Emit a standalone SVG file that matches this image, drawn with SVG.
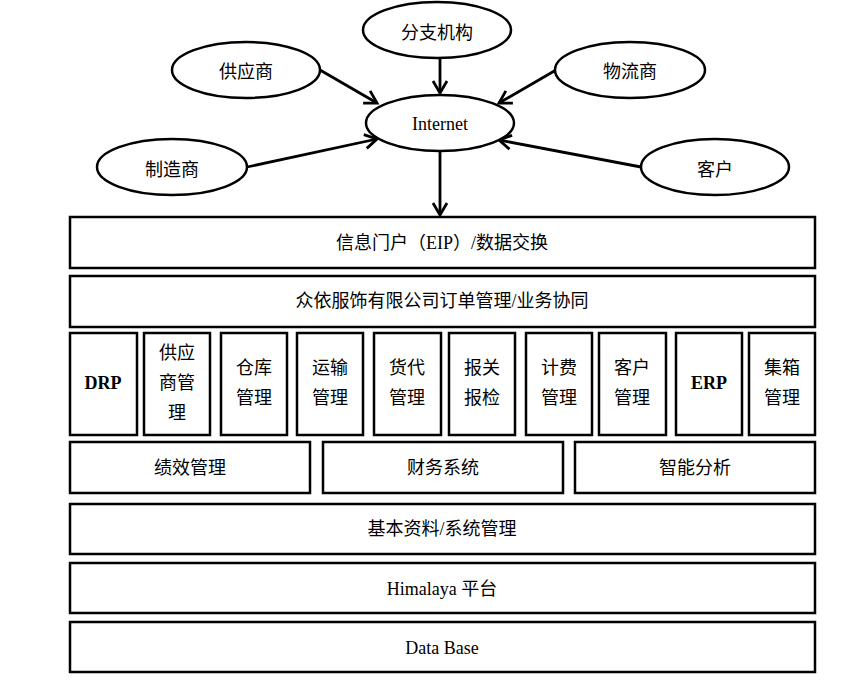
<svg xmlns="http://www.w3.org/2000/svg" width="852" height="683" viewBox="0 0 852 683">
<style>
.n{fill:#fff;stroke:#000;stroke-width:2.5}
.t{font-family:"Liberation Serif","Noto Sans CJK SC",serif;font-size:18px;fill:#000;text-anchor:middle}
.c{stroke:#000;stroke-width:2.8;fill:none}
.b{font-weight:bold}
</style>
<defs>
<marker id="ah" markerUnits="userSpaceOnUse" markerWidth="16" markerHeight="18" refX="13" refY="8" orient="auto" viewBox="0 0 16 16">
<path d="M1,1 L13,8 L1,15" fill="none" stroke="#000" stroke-width="2.8"/>
</marker>
</defs>
<rect width="852" height="683" fill="#fff"/>
<g id="connectors">
<line class="c" x1="440" y1="58" x2="440" y2="93" marker-end="url(#ah)"/>
<line class="c" x1="320" y1="70" x2="377" y2="103" marker-end="url(#ah)"/>
<line class="c" x1="247" y1="167" x2="377" y2="139" marker-end="url(#ah)"/>
<line class="c" x1="556" y1="70" x2="499" y2="103" marker-end="url(#ah)"/>
<line class="c" x1="641" y1="167" x2="499" y2="140" marker-end="url(#ah)"/>
<line class="c" x1="440" y1="151" x2="440" y2="215" marker-end="url(#ah)"/>
</g>
<g id="fenzhi"><ellipse class="n" cx="437" cy="30" rx="74" ry="28"/><text class="t" x="437" y="39">分支机构</text></g>
<g id="gongying"><ellipse class="n" cx="246" cy="70" rx="74" ry="28"/><text class="t" x="246" y="78">供应商</text></g>
<g id="internet"><ellipse class="n" cx="440" cy="123" rx="74" ry="28"/><text class="t" x="440" y="130">Internet</text></g>
<g id="zhizao"><ellipse class="n" cx="172" cy="167" rx="75" ry="28"/><text class="t" x="172" y="176">制造商</text></g>
<g id="wuliu"><ellipse class="n" cx="630" cy="70" rx="75" ry="28"/><text class="t" x="630" y="78">物流商</text></g>
<g id="kehu"><ellipse class="n" cx="715" cy="167" rx="74" ry="28"/><text class="t" x="715" y="176">客户</text></g>

<g id="eip"><rect class="n" x="70" y="217" width="745" height="51"/><text class="t" x="442" y="249">信息门户（EIP）/数据交换</text></g>
<g id="order"><rect class="n" x="70" y="276" width="745" height="51"/><text class="t" x="442" y="307">众依服饰有限公司订单管理/业务协同</text></g>

<g id="drp"><rect class="n" x="70" y="333" width="67" height="102"/><text class="t b" x="103" y="389">DRP</text></g>
<g id="supplier"><rect class="n" x="144" y="333" width="66" height="102"/><text class="t" x="177" y="359">供应</text><text class="t" x="177" y="389">商管</text><text class="t" x="177" y="419">理</text></g>
<g id="warehouse"><rect class="n" x="221" y="333" width="66" height="102"/><text class="t" x="254" y="374">仓库</text><text class="t" x="254" y="404">管理</text></g>
<g id="transport"><rect class="n" x="297" y="333" width="66" height="102"/><text class="t" x="330" y="374">运输</text><text class="t" x="330" y="404">管理</text></g>
<g id="freight"><rect class="n" x="374" y="333" width="67" height="102"/><text class="t" x="407" y="374">货代</text><text class="t" x="407" y="404">管理</text></g>
<g id="customs"><rect class="n" x="449" y="333" width="66" height="102"/><text class="t" x="482" y="374">报关</text><text class="t" x="482" y="404">报检</text></g>
<g id="billing"><rect class="n" x="526" y="333" width="66" height="102"/><text class="t" x="559" y="374">计费</text><text class="t" x="559" y="404">管理</text></g>
<g id="customer"><rect class="n" x="599" y="333" width="67" height="102"/><text class="t" x="632" y="374">客户</text><text class="t" x="632" y="404">管理</text></g>
<g id="erp"><rect class="n" x="676" y="333" width="66" height="102"/><text class="t b" x="709" y="389">ERP</text></g>
<g id="container"><rect class="n" x="749" y="333" width="66" height="102"/><text class="t" x="782" y="374">集箱</text><text class="t" x="782" y="404">管理</text></g>

<g id="perf"><rect class="n" x="70" y="442" width="240" height="51"/><text class="t" x="190" y="474">绩效管理</text></g>
<g id="finance"><rect class="n" x="323" y="442" width="240" height="51"/><text class="t" x="443" y="474">财务系统</text></g>
<g id="bi"><rect class="n" x="575" y="442" width="240" height="51"/><text class="t" x="695" y="474">智能分析</text></g>

<g id="basic"><rect class="n" x="70" y="504" width="745" height="50"/><text class="t" x="442" y="535">基本资料/系统管理</text></g>
<g id="himalaya"><rect class="n" x="70" y="563" width="745" height="50"/><text class="t" x="442" y="595">Himalaya 平台</text></g>
<g id="db"><rect class="n" x="70" y="622" width="745" height="50"/><text class="t" x="442" y="654">Data Base</text></g>
</svg>
